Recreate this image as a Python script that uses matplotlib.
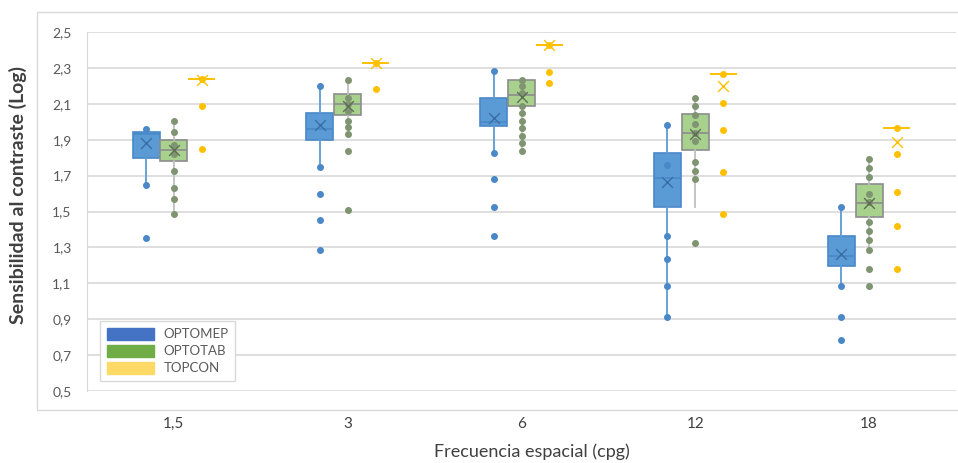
import matplotlib
matplotlib.use("Agg")
import matplotlib.pyplot as plt
from matplotlib.patches import Patch, Rectangle

plt.rcParams['font.family'] = ['Lato', 'DejaVu Sans']

# Frecuencias espaciales (categorias)
categorias = ['1,5', '3', '6', '12', '18']
series = ['OPTOMEP', 'OPTOTAB', 'TOPCON']

# OPTOMEP
mep_q1 = [1.80, 1.90, 1.975, 1.525, 1.195]
mep_med = [1.93, 1.96, 2.00, 1.685, 1.25]
mep_q3 = [1.945, 2.05, 2.13, 1.825, 1.365]
mep_lo = [1.65, 1.75, 1.825, 0.91, 1.085]
mep_hi = [1.96, 2.20, 2.285, 1.98, 1.525]
mep_mean = [1.88, 1.98, 2.02, 1.665, 1.265]
mep_puntos = [[1.96, 1.65, 1.35],
              [2.20, 1.75, 1.60, 1.45, 1.285],
              [2.285, 1.825, 1.68, 1.525, 1.365],
              [1.98, 1.76, 1.365, 1.235, 1.085, 0.91],
              [1.525, 1.085, 0.91, 0.785]]

# OPTOTAB
tab_q1 = [1.78, 2.04, 2.09, 1.84, 1.47]
tab_med = [1.845, 2.10, 2.15, 1.94, 1.545]
tab_q3 = [1.90, 2.155, 2.23, 2.045, 1.655]
tab_lo = [1.48, 1.93, 1.835, 1.525, 1.285]
tab_hi = [2.005, 2.23, 2.235, 2.135, 1.79]
tab_mean = [1.84, 2.09, 2.14, 1.93, 1.55]
tab_puntos = [[2.005, 1.945, 1.87, 1.82, 1.725, 1.63, 1.57, 1.485],
              [2.23, 2.13, 2.10, 2.06, 2.005, 1.97, 1.93, 1.835, 1.51],
              [2.235, 2.20, 2.16, 2.09, 2.05, 2.005, 1.965, 1.92, 1.88, 1.835],
              [2.135, 2.09, 2.04, 1.99, 1.94, 1.89, 1.775, 1.725, 1.68, 1.325],
              [1.79, 1.74, 1.69, 1.60, 1.555, 1.44, 1.39, 1.34, 1.285, 1.18, 1.085]]

# TOPCON (caja colapsada)
top_med = [2.24, 2.33, 2.43, 2.265, 1.965]
top_mean = [2.235, 2.325, 2.425, 2.20, 1.885]
top_puntos = [[2.24, 2.085, 1.85],
              [2.33, 2.185],
              [2.43, 2.275, 2.215],
              [2.265, 2.105, 1.955, 1.72, 1.485],
              [1.965, 1.82, 1.61, 1.42, 1.18]]

fig = plt.figure(figsize=(9.58, 4.63), dpi=100)
ax = fig.add_axes([87 / 958, 1 - 391 / 463, 869 / 958, 359 / 463])

# marco exterior del grafico
fig.patches.append(Rectangle((37 / 958, 1 - 410 / 463), 1.0, 398 / 463,
                             transform=fig.transFigure, fill=False,
                             edgecolor='#d9d9d9', linewidth=1, zorder=0))

ancho = 0.155
desp = [-0.16, 0.0, 0.16]

estilos = [
    dict(fill='#5b9bd5', edge='#4a88c8', whisk='#5b9bd5', pt='#4a88c8', mean='#3a6ea5'),
    dict(fill='#a9d18e', edge='#8c8c8c', whisk='#bfbfbf', pt='#7f9470', mean='#5f6f55'),
    dict(fill='#ffc000', edge='#ffc000', whisk='#ffc000', pt='#ffc000', mean='#ffc000'),
]

datos = [
    (mep_q1, mep_med, mep_q3, mep_lo, mep_hi, mep_mean, mep_puntos),
    (tab_q1, tab_med, tab_q3, tab_lo, tab_hi, tab_mean, tab_puntos),
    (top_med, top_med, top_med, top_med, top_med, top_mean, top_puntos),
]

for s, (q1, med, q3, lo, hi, mean, puntos) in enumerate(datos):
    st = estilos[s]
    stats = []
    for i in range(len(categorias)):
        stats.append(dict(q1=q1[i], med=med[i], q3=q3[i], whislo=lo[i],
                          whishi=hi[i], mean=mean[i], fliers=[]))
    pos = [i + desp[s] for i in range(len(categorias))]
    ax.bxp(stats, positions=pos, widths=ancho, patch_artist=True,
           showmeans=False, showcaps=False, showfliers=False,
           boxprops=dict(facecolor=st['fill'], edgecolor=st['edge'], linewidth=1.2),
           medianprops=dict(color=st['edge'], linewidth=1.2),
           whiskerprops=dict(color=st['whisk'], linewidth=1.3),
           zorder=3)
    for i, pts in enumerate(puntos):
        ax.scatter([pos[i]] * len(pts), pts, s=16, color=st['pt'],
                   edgecolors=st['pt'], zorder=4)
    ax.scatter(pos, mean, marker='x', s=60, color=st['mean'], linewidths=1,
               zorder=5)

ax.set_xlim(-0.5, len(categorias) - 0.5)
ax.set_ylim(0.5, 2.5)
ax.set_yticks([0.5, 0.7, 0.9, 1.1, 1.3, 1.5, 1.7, 1.9, 2.1, 2.3, 2.5])
ax.set_yticklabels(['0,5', '0,7', '0,9', '1,1', '1,3', '1,5', '1,7', '1,9',
                    '2,1', '2,3', '2,5'], fontsize=10, color='#595959')
ax.set_xticks(range(len(categorias)))
ax.set_xticklabels(categorias, fontsize=11, color='#404040')
ax.tick_params(length=0, pad=11)
ax.tick_params(axis='x', pad=19)
ax.grid(axis='y', color='#d9d9d9', linewidth=1.2)
ax.set_axisbelow(True)
for lado in ['top', 'right', 'bottom']:
    ax.spines[lado].set_visible(False)
ax.spines['left'].set_color('#d9d9d9')

fig.text(18 / 958, 1 - 195 / 463, 'Sensibilidad al contraste (Log)', rotation=90,
         ha='center', va='center', fontsize=14, fontweight='bold', color='#404040')
fig.text(532 / 958, 1 - 452 / 463, 'Frecuencia espacial (cpg)', ha='center',
         va='center', fontsize=13, color='#404040')

colores_leyenda = ['#4472c4', '#70ad47', '#ffd966']
handles = [Patch(facecolor=c, edgecolor=c) for c in colores_leyenda]
leg = ax.legend(handles, series, loc='lower left',
                bbox_to_anchor=(13 / 869, 10 / 359), fontsize=9.5,
                handlelength=3.6, handleheight=1.0, labelspacing=0.35,
                handletextpad=0.7, fancybox=False, framealpha=1,
                edgecolor='#d9d9d9', borderpad=0.5, borderaxespad=0,
                labelcolor='#595959')
leg.get_frame().set_linewidth(1)

fig.savefig('out.png', dpi=100)
